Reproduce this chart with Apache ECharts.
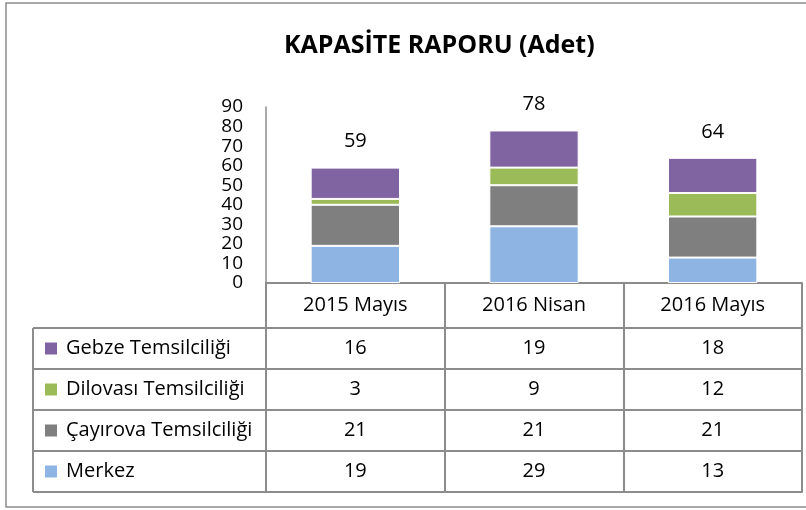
<!DOCTYPE html>
<html>
<head>
<meta charset="utf-8">
<script src="https://cdn.jsdelivr.net/npm/echarts@6/dist/echarts.min.js"></script>
<style>
  html, body { margin: 0; padding: 0; background: #fff; }
  #chart { width: 806px; height: 510px; }
</style>
</head>
<body>
<div id="chart"></div>
<script>
// veriler
const categories = ['2015 Mayıs', '2016 Nisan', '2016 Mayıs'];
const merkez = [19, 29, 13];
const cayirova = [21, 21, 21];
const dilovasi = [3, 9, 12];
const gebze = [16, 19, 18];
const seriesNames = ['Merkez', 'Çayırova Temsilciliği', 'Dilovası Temsilciliği', 'Gebze Temsilciliği'];
const seriesData = [merkez, cayirova, dilovasi, gebze];
const colors = ['#8EB4E3', '#7F7F7F', '#9BBB59', '#8064A2'];
const yMin = 0, yMax = 90, yStep = 10;

const totals = categories.map((c, i) => seriesData.reduce((s, arr) => s + arr[i], 0));

const FONT = 'Open Sans';
const lineCol = '#8c8c8c';
const headerH = 45;
const rowH = 41;
const tableLeft = 33, gridLeft = 266, axisY = 283;
const tableFont = 20, tableLH = 22;

// tablo satırları: üstten alta Gebze, Dilovası, Çayırova, Merkez
const tableRows = seriesData.slice().reverse();

const xAxes = [{
    type: 'category', data: categories, position: 'bottom',
    axisLine: { onZero: false, lineStyle: { color: lineCol, width: 2 } },
    axisTick: { show: true, interval: 0, length: headerH, lineStyle: { color: lineCol, width: 2 } },
    axisLabel: { margin: 11.5, fontSize: tableFont, lineHeight: tableLH, color: '#000', fontFamily: FONT, interval: 0 }
}];
tableRows.forEach((row, i) => {
    xAxes.push({
        type: 'category', data: row.map(String), position: 'bottom', offset: headerH + rowH * i,
        axisLine: { onZero: false, lineStyle: { color: lineCol, width: 2 } },
        axisTick: { show: true, interval: 0, length: rowH, lineStyle: { color: lineCol, width: 2 } },
        axisLabel: { margin: (rowH - tableLH) / 2, fontSize: tableFont, lineHeight: tableLH, color: '#000', fontFamily: FONT, interval: 0 }
    });
});
// alt kenar
xAxes.push({
    type: 'category', data: categories, position: 'bottom', offset: headerH + rowH * tableRows.length,
    axisLine: { onZero: false, lineStyle: { color: lineCol, width: 2 } },
    axisTick: { show: false }, axisLabel: { show: false }
});

const tableBottom = axisY + headerH + rowH * tableRows.length;
const leftLines = [];
for (let i = 0; i <= tableRows.length; i++) {
    const y = axisY + headerH + rowH * i;
    leftLines.push({ type: 'line', shape: { x1: tableLeft, y1: y, x2: gridLeft, y2: y }, style: { stroke: lineCol, lineWidth: 2 } });
}
leftLines.push({ type: 'line', shape: { x1: tableLeft, y1: axisY + headerH, x2: tableLeft, y2: tableBottom }, style: { stroke: lineCol, lineWidth: 2 } });

const chart = echarts.init(document.getElementById('chart'));
chart.setOption({
    animation: false,
    textStyle: { fontFamily: FONT },
    title: {
        text: 'KAPASİTE RAPORU (Adet)', left: 279, top: 28,
        textStyle: { fontSize: 25, fontWeight: 'bold', color: '#000', fontFamily: FONT }
    },
    legend: {
        orient: 'vertical', left: 43, top: axisY + headerH + (rowH - tableLH) / 2, padding: 0,
        itemGap: rowH - tableLH, itemWidth: 14, itemHeight: 14, icon: 'rect', selectedMode: false,
        data: seriesNames.slice().reverse(),
        textStyle: { fontSize: tableFont, lineHeight: tableLH, color: '#000', fontFamily: FONT, padding: [0, 0, 0, 3] }
    },
    grid: { left: gridLeft, right: 4, top: 107, bottom: 510 - axisY, containLabel: false },
    xAxis: xAxes,
    yAxis: {
        type: 'value', min: yMin, max: yMax, interval: yStep,
        axisLine: { show: true, lineStyle: { color: lineCol, width: 1.5 } },
        axisTick: { show: false },
        splitLine: { show: false },
        axisLabel: { margin: 23, fontSize: 19, lineHeight: 19, color: '#000', fontFamily: FONT }
    },
    series: seriesNames.map((name, k) => ({
        name: name, type: 'bar', stack: 'toplam', barWidth: '50%',
        data: seriesData[k],
        itemStyle: { color: colors[k], borderColor: '#fff', borderWidth: 1 },
        label: k === seriesNames.length - 1 ? {
            show: true, position: 'top', distance: 16, fontSize: 20, lineHeight: 20, color: '#000', fontFamily: FONT,
            formatter: p => totals[p.dataIndex]
        } : { show: false }
    })),
    graphic: [
        { type: 'rect', shape: { x: 6, y: 3, width: 820, height: 504 }, style: { fill: 'none', stroke: lineCol, lineWidth: 1.5 } }
    ].concat(leftLines)
});
</script>
</body>
</html>
